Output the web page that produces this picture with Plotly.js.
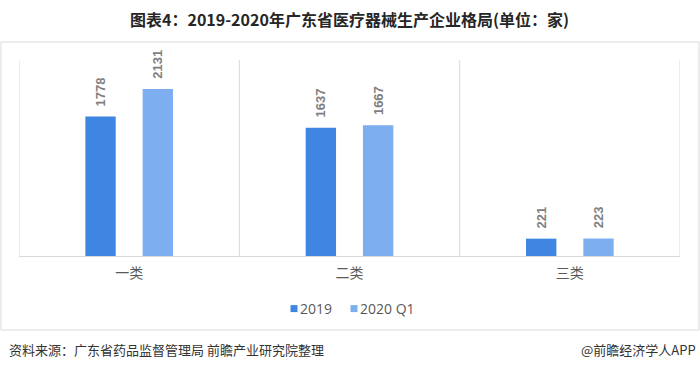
<!DOCTYPE html>
<html>
<head>
<meta charset="utf-8">
<script src="https://cdn.plot.ly/plotly-3.0.1.min.js"></script>
<style>html,body{margin:0;padding:0;background:#fff;}#chart{width:700px;height:370px;}</style>
</head>
<body>
<div id="chart"></div>
<script>
const categories = ['一类', '二类', '三类'];
const seriesNames = ['2019', '2020 Q1'];
const values2019 = [1778, 1637, 221];
const values2020Q1 = [2131, 1667, 223];
const titleText = '图表4：2019-2020年广东省医疗器械生产企业格局(单位：家)';
const sourceText = '资料来源：广东省药品监督管理局 前瞻产业研究院整理';
const brandText = '@前瞻经济学人APP';

const cjk = '"Noto Sans CJK SC", "Noto Sans", sans-serif';
const W = 700, H = 370;
const m = {l: 19, r: 20, t: 60, b: 114};
const pw = W - m.l - m.r, ph = H - m.t - m.b;
const px = x => (x - m.l) / pw;
const py = y => (H - m.b - y) / ph;

function barTrace(name, vals, color) {
  return {
    type: 'bar', name: name, x: categories, y: vals,
    marker: {color: color},
    text: vals.map(v => '\u00a0\u00a0' + v), textposition: 'outside', textangle: -90,
    constraintext: 'none', cliponaxis: false,
    textfont: {family: '"Liberation Sans", Arial, sans-serif', size: 13, color: '#7f7f7f', weight: 'bold'},
    hoverinfo: 'none'
  };
}

const data = [
  barTrace(seriesNames[0], values2019, '#3f86e2'),
  barTrace(seriesNames[1], values2020Q1, '#7daff0')
];

const shapes = [];
[-0.5, 0.5, 1.5, 2.5].forEach(v => shapes.push({
  type: 'line', xref: 'x', yref: 'paper', x0: v, x1: v, y0: 0, y1: 1,
  line: {color: '#d9d9d9', width: 1}, layer: 'below'
}));
shapes.push({type: 'rect', xref: 'paper', yref: 'paper',
  x0: px(1), x1: px(699), y0: py(330), y1: py(42),
  line: {color: '#d9d9d9', width: 1}, layer: 'below'});

const layout = {
  width: W, height: H, margin: m,
  paper_bgcolor: '#fff', plot_bgcolor: '#fff',
  title: {text: titleText, x: 0.5, xanchor: 'center', xref: 'paper', y: 1 - 20 / H, yanchor: 'middle', yref: 'container',
    font: {family: cjk, size: 16, color: '#262626', weight: 'bold'}},
  barmode: 'group', bargap: 0.48, bargroupgap: 0.47,
  xaxis: {type: 'category', showgrid: false, showline: true, linecolor: '#d9d9d9', linewidth: 1,
    ticks: '', ticklabelstandoff: 4, tickfont: {family: cjk, size: 14, color: '#595959'}, range: [-0.5, 2.5], fixedrange: true},
  yaxis: {range: [0, 2500], visible: false, showgrid: false, zeroline: false, fixedrange: true},
  showlegend: true,
  legend: {orientation: 'h', x: 0.5, xanchor: 'center', y: py(309), yanchor: 'middle',
    font: {family: '"Open Sans", "Noto Sans", sans-serif', size: 14, color: '#595959'}, itemwidth: 30, traceorder: 'normal'},
  shapes: shapes,
  annotations: [
    {text: sourceText, xref: 'paper', yref: 'paper', x: px(7), y: py(349), xanchor: 'left', yanchor: 'middle', showarrow: false,
      font: {family: cjk, size: 13, color: '#333333'}},
    {text: brandText, xref: 'paper', yref: 'paper', x: px(698), y: py(349), xanchor: 'right', yanchor: 'middle', showarrow: false,
      font: {family: cjk, size: 13, color: '#333333'}}
  ]
};

Plotly.newPlot('chart', data, layout, {staticPlot: true, displayModeBar: false}).then(gd => {
  // compact legend swatches like the original
  const targetSym = [294, 354], targetText = [300, 360];
  gd.querySelectorAll('.legend .traces').forEach((g, i) => {
    const p = g.querySelector('.legendpoints path');
    const t = g.querySelector('text.legendtext');
    if (!p || !t) return;
    p.setAttribute('d', 'M3.5,3.5H-3.5V-3.5H3.5Z');
    const tf = g.getAttribute('transform') || 'translate(0,0)';
    const mm = tf.match(/translate\(([-\d.e]+)[ ,]+([-\d.e]+)\)/);
    let a = mm ? +mm[1] : 0, b = mm ? +mm[2] : 0;
    const pr = p.getBoundingClientRect();
    a += targetSym[i] - (pr.left + pr.right) / 2;
    g.setAttribute('transform', 'translate(' + a + ',' + b + ')');
    const tr = t.getBoundingClientRect();
    t.setAttribute('x', (+t.getAttribute('x')) + (targetText[i] - tr.left));
  });
});
</script>
</body>
</html>
